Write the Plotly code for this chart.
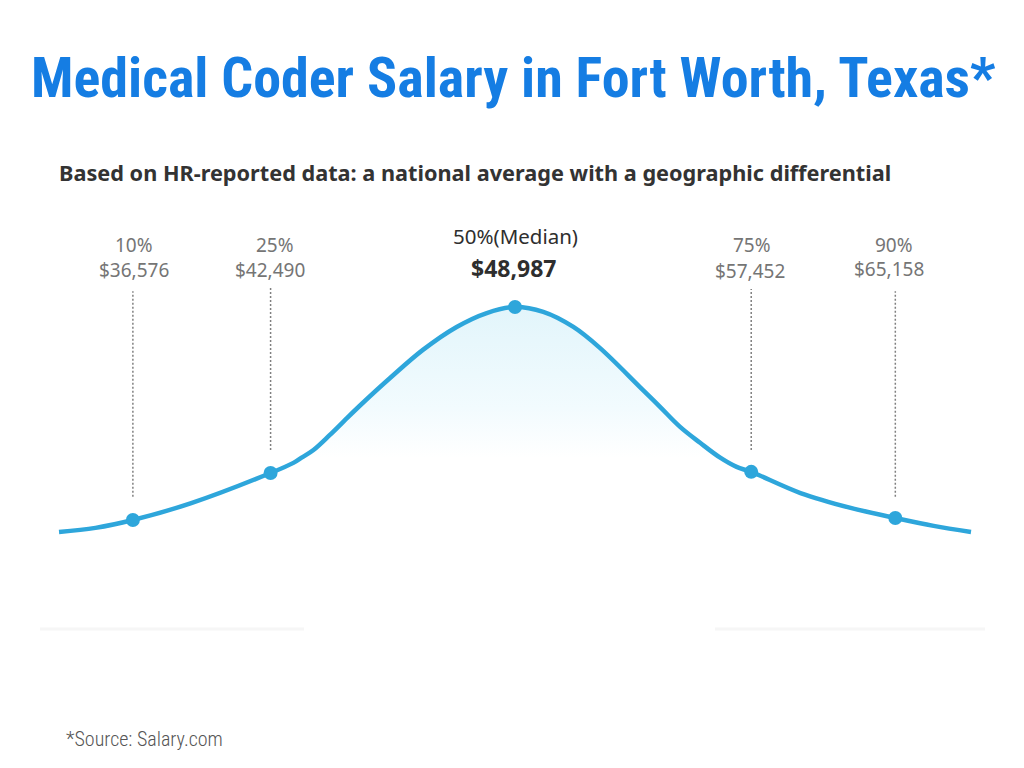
import plotly.graph_objects as go

# curve: x = % of chart width, y = height with the median peak at 100
curve_x = [0, 4, 8.1, 14.5, 23.2, 25.7, 26.6, 27.9, 29.7, 31.6, 33.3, 36.3, 39.9, 43.6, 46.9, 50, 53.1, 56.4, 59.3, 63.7, 65.9, 68.1, 70.3, 72.5, 74.3, 75.9, 81.3, 86.8, 91.7, 95.9, 100]
curve_y = [0, 1.8, 5.3, 12.8, 26.2, 30.7, 33, 36.4, 43.1, 50.7, 57.3, 68.4, 80.9, 91.1, 97.3, 100, 97.8, 91.1, 81.8, 64.4, 55.6, 46.7, 39.6, 33, 28.9, 26.7, 17.3, 10.7, 6.2, 2.7, 0]

percentiles = ["10%", "25%", "50%(Median)", "75%", "90%"]
salaries = ["$36,576", "$42,490", "$48,987", "$57,452", "$65,158"]
point_x = [8.1, 23.2, 50, 75.9, 91.7]
point_y = [5.3, 26.2, 100, 26.7, 6.2]

# dotted stems, the median has none
stem_x = [8.1, 23.2, 75.9, 91.7]
stem_low = [15.6, 36.4, 36.4, 15.6]
stem_high = [107, 108.4, 108, 107]

FILL_FLOOR = 33

BLUE = "#2ea6db"
GREY = "#757575"
DARK = "#2e2e2e"

fig = go.Figure()

# pale area under the hump, fading out towards its flat bottom
hump = [(x, y) for x, y in zip(curve_x, curve_y) if y >= FILL_FLOOR]
fill_x = [p[0] for p in hump]
fill_y = [p[1] for p in hump]
fig.add_trace(go.Scatter(
    x=[fill_x[0]] + fill_x + [fill_x[-1]],
    y=[FILL_FLOOR] + fill_y + [FILL_FLOOR],
    mode="lines",
    line=dict(width=0),
    fill="toself",
    fillgradient=dict(
        type="vertical",
        colorscale=[[0, "#ffffff"], [0.33, "#f2fbfe"], [1, "#e2f5fb"]],
    ),
    hoverinfo="skip",
))

for x, low, high in zip(stem_x, stem_low, stem_high):
    fig.add_trace(go.Scatter(
        x=[x, x], y=[low, high], mode="lines",
        line=dict(color="#808080", width=1.5, dash="2px 2px"),
    ))

fig.add_trace(go.Scatter(
    x=curve_x, y=curve_y, mode="lines",
    line=dict(color=BLUE, width=4.5, shape="spline", smoothing=1),
))
fig.add_trace(go.Scatter(
    x=point_x, y=point_y, mode="markers",
    marker=dict(color=BLUE, size=14),
))

# label positions nudged per column, the source text is not quite centred
label_x = [8.2, 23.7, 50.1, 76.0, 91.6]
value_x = [8.2, 23.1, 49.9, 75.8, 91.0]
label_y = [127.7, 127.7, 131.5, 127.7, 127.7]
value_y = [116.5, 116.5, 117.5, 116, 117]
for i in range(len(percentiles)):
    median = i == 2
    fig.add_annotation(
        x=label_x[i], y=label_y[i], yanchor="middle", text=percentiles[i], showarrow=False,
        font=dict(family="Noto Sans", size=20.5 if median else 19, color=DARK if median else GREY),
    )
    fig.add_annotation(
        x=value_x[i], y=value_y[i], yanchor="middle",
        text=f"<b>{salaries[i]}</b>" if median else salaries[i],
        showarrow=False,
        font=dict(family="Noto Sans", size=23 if median else 19, color=DARK if median else GREY),
    )

fig.add_annotation(
    xref="paper", yref="paper", x=513 / 1024, y=0.898, yanchor="middle",
    text="<b>Medical Coder Salary in Fort Worth, Texas*</b>",
    showarrow=False, font=dict(family="Roboto Condensed", size=56, color="#157de3"),
)
fig.add_annotation(
    xref="paper", yref="paper", x=57 / 1024, y=0.7755, xanchor="left", yanchor="middle",
    text="<b>Based on HR-reported data: a national average with a geographic differential</b>",
    showarrow=False, font=dict(family="Noto Sans", size=21.7, color="#333333"),
)
fig.add_annotation(
    xref="paper", yref="paper", x=64 / 1024, y=0.0378, xanchor="left", yanchor="middle",
    text="*Source: Salary.com", showarrow=False,
    font=dict(family="Roboto Condensed", size=20, weight=300, color="#555555"),
)

# very faint rules left over under the chart
fig.add_shape(type="line", xref="paper", yref="paper", x0=40 / 1024, x1=304 / 1024, y0=0.181, y1=0.181,
              line=dict(color="#f6f6f6", width=3))
fig.add_shape(type="line", xref="paper", yref="paper", x0=715 / 1024, x1=985 / 1024, y0=0.181, y1=0.181,
              line=dict(color="#f6f6f6", width=3))

fig.update_layout(
    width=1024, height=768,
    margin=dict(l=0, r=0, t=0, b=0),
    showlegend=False,
    plot_bgcolor="white",
    paper_bgcolor="white",
    xaxis=dict(range=[-6.47, 105.81], visible=False),
    yaxis=dict(range=[-104.9, 236.4], visible=False),
)

fig.write_html("out.html", config={"displayModeBar": False}, post_script="document.body.style.margin='0';")
